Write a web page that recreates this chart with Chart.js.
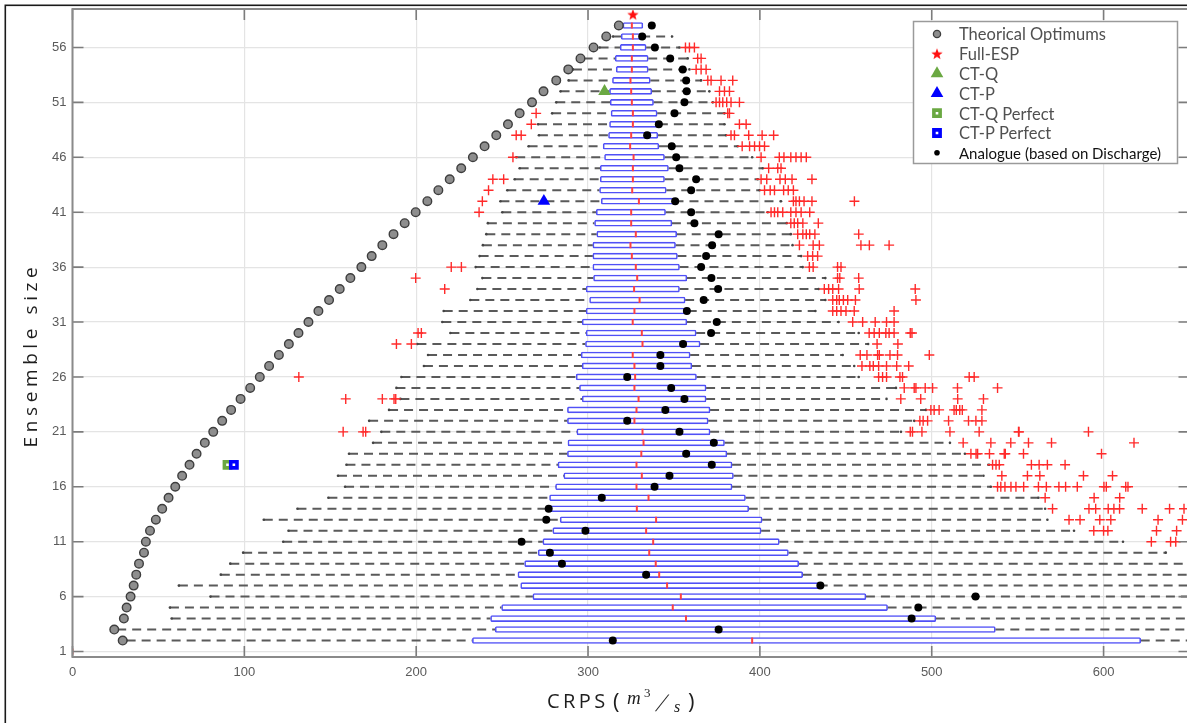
<!DOCTYPE html>
<html>
<head>
<meta charset="utf-8">
<title>CRPS vs ensemble size</title>
<script src="https://cdn.jsdelivr.net/npm/chart.js@4.4.1/dist/chart.umd.min.js"></script>
<style>
  html, body { margin: 0; padding: 0; background: #fff; overflow: hidden; }
  canvas { display: block; }
</style>
</head>
<body>
<canvas id="crps" width="1200" height="723"></canvas>
<script>
// ---- data: one entry per ensemble size ----
const ensembleSizes = [
  1, 2, 3, 4, 5, 6, 7, 8, 9, 10,
  11, 12, 13, 14, 15, 16, 17, 18, 19, 20,
  21, 22, 23, 24, 25, 26, 27, 28, 29, 30,
  31, 32, 33, 34, 35, 36, 37, 38, 39, 40,
  41, 42, 43, 44, 45, 46, 47, 48, 49, 50,
  51, 52, 53, 54, 55, 56, 57, 58
];
const whiskerLow = [
  0, 31.5, 26, 57.7, 56.7, 80.3, 61.9, 86.3, 91.8, 99.3,
  122.6, 125.7, 111.3, 130.9, 148.9, 158.6, 154.5, 159.4, 160.9, 174.9,
  179.7, 172.6, 184.2, 190.8, 188.5, 191.4, 204.5, 206.9, 200.7, 219.9,
  215.2, 216.0, 231.5, 235.6, 238.5, 234.6, 236.9, 238.8, 240.8, 241.7,
  250.1, 249.0, 253.0, 257.3, 260.2, 258.2, 265.4, 271.4, 270.9, 279.1,
  281.5, 284.0, 288.7, 291.2, 297.4, 306.7, 314.5, 320.3
];
const quartile1 = [
  0, 232.7, 246, 243.3, 249.7, 267.9, 260.8, 259.2, 263.1, 271,
  273.7, 279.5, 283.8, 277.6, 277.6, 281.1, 285.9, 282.5, 288.0, 288.3,
  293.5, 288.0, 288.0, 296.6, 295.0, 293.1, 296.6, 296.0, 298.5, 298.9,
  296.6, 298.9, 300.9, 298.9, 303.2, 302.8, 302.8, 302.8, 305.1, 303.8,
  304.8, 307.7, 306.7, 307.1, 307.1, 309.6, 308.8, 311.9, 312.5, 313.4,
  312.9, 312.5, 314.2, 316.4, 315.8, 318.7, 319.3, 320.3
];
const medianCRPS = [
  0, 395.5, 375, 357, 349.3, 354, 346, 341.4, 339.4, 335.6,
  337.9, 333.8, 339.6, 328.4, 335.2, 328.2, 331.3, 328.2, 331.0, 332.3,
  331.7, 327.0, 328.2, 329.4, 327.0, 327.4, 327.0, 326.0, 331.7, 331.3,
  326.0, 327.0, 330.0, 326.8, 328.6, 327.8, 325.5, 324.7, 327.8, 325.1,
  325.1, 329.6, 325.7, 326.1, 326.1, 326.5, 324.5, 325.1, 326.1, 326.1,
  325.5, 325.1, 324.7, 325.5, 325.5, 326.1, 326.1, 325.5
];
const quartile3 = [
  0, 621.6, 537, 502.4, 474.3, 461.7, 434.2, 424.9, 422.6, 416.6,
  411.3, 400.7, 401.3, 393.5, 391.6, 383.8, 384.6, 383.8, 380.8, 379.4,
  371.0, 369.9, 371.0, 368.7, 368.7, 363.1, 360.4, 359.4, 365.2, 362.9,
  357.5, 358.0, 356.5, 353.2, 357.5, 353.2, 352.0, 350.9, 351.6, 348.8,
  345.1, 350.3, 345.5, 344.5, 346.8, 344.5, 341.2, 340.6, 341.2, 340.2,
  338.1, 337.1, 336.2, 335.0, 335.0, 333.8, 330.9, 331.9
];
const whiskerHigh = [
  0, 760, 720, 700, 690, 680, 675, 668, 660, 636.2,
  611.3, 582.8, 567.3, 566, 562.1, 534.4, 530.1, 533.4, 519.3, 510.6,
  482.1, 489.8, 496.6, 473.7, 479.2, 457.5, 454.9, 448.2, 463.0, 457.5,
  445.8, 432.3, 438.1, 434.2, 438.1, 424.9, 424.0, 419.0, 418.0, 415.6,
  404.6, 412.3, 399.8, 398.8, 401.7, 395.5, 387.1, 380.3, 379.4, 379.4,
  372.6, 370.6, 365.8, 359.0, 358.0, 353.2, 348.9, 331.9
];
const analogueCRPS = [
  null, 314.4, 376, 488.3, 492.2, 525.5, 435.2, 333.8, 284.8, 277.8,
  261.3, 298.5, 275.7, 277.1, 308, 338.7, 347.4, 372, 357.1, 373.2,
  353.2, 322.8, 345.0, 356.1, 348.4, 322.8, 342.1, 342.1, 355.3, 371.6,
  374.9, 357.5, 367.3, 375.7, 371.8, 365.8, 368.7, 372.2, 376.0, 361.9,
  360.0, 350.7, 360.0, 362.9, 353.2, 351.3, 348.7, 334.4, 341.2, 350.3,
  356.1, 357.4, 357.1, 355.1, 347.8, 338.9, 331.5, 337.1
];
const theoreticalOptimum = [
  null, 29.2, 24.3, 29.9, 31.5, 33.8, 35.6, 37.1, 38.7, 41.6,
  42.7, 45.1, 48.5, 52.2, 55.9, 59.8, 63.8, 68.1, 72.2, 77.0,
  81.9, 87.1, 92.3, 97.8, 103.4, 109.0, 114.4, 120.1, 125.9, 131.5,
  137.3, 143.1, 149.3, 155.5, 161.7, 168.1, 174.1, 180.3, 186.8, 193.3,
  199.7, 206.5, 212.9, 219.5, 226.2, 233.0, 239.8, 246.6, 253.4, 260.2,
  267.4, 274.1, 281.5, 288.5, 295.6, 303.2, 310.6, 317.9
];
const outlierCRPS = [
  [],
  [], [], [], [], [], [], [], [], [],
  [627.8, 639, 642],
  [594.3, 600, 602.5, 630.8, 642.5],
  [579.9, 586.3, 597.8, 604.2, 631.7, 645.9],
  [570.3, 591.5, 595.4, 602.7, 606, 609.3, 622.5, 638.4, 646.8],
  [566, 594.5, 609.4],
  [538.3, 540.2, 542.6, 546.1, 549, 553.5, 562.1, 566.7, 574, 577.9, 584.7, 600.2, 601.6, 612.9, 614.2],
  [540.8, 555.7, 562.9, 588.3, 605.2],
  [535.4, 537.4, 539.3, 558, 562.5, 567.3, 577.6],
  [522.8, 525.8, 526.7, 533.6, 542.2, 542.8, 553.4, 598.8],
  [518.3, 534.4, 546, 556.3, 569.7, 617.7],
  [157.5, 169.1, 170.6, 487.5, 488.8, 494.3, 510.6, 527.6, 550.5, 550.8, 591.2],
  [493.1, 495, 497.6, 509.8, 521.4, 525.7, 529.2],
  [499.5, 501.4, 504.3, 513, 514.3, 516.3, 517.8, 529.2],
  [159, 180.3, 187.1, 188.1, 482, 493.6, 515.1, 530.1],
  [484, 489.8, 490.8, 496.2, 500.5, 515, 538.3],
  [131.7, 469.1, 471.4, 473.7, 481.5, 483, 521.8, 524.7],
  [459.4, 464, 466, 469.1, 473.7, 479.6, 486.6],
  [458.4, 462.3, 468.5, 469.5, 475.7, 480.1, 498.6],
  [188.5, 197.2, 468.2, 480.3],
  [201.1, 203, 463.6, 466.5, 469.5, 473.3, 475.2, 478.1, 487.5, 488.5],
  [454, 459.8, 467.1, 473.7, 478.1],
  [442.4, 444.7, 447.2, 450.1, 454.9, 478.1],
  [442.4, 444.7, 446.2, 448.6, 451.1, 455.6, 490.8],
  [216.6, 437.5, 440, 442.4, 445.8, 457.8, 490.4],
  [199.7, 445.2, 446.5, 457.5],
  [220.4, 226.3, 428.8, 431, 445.2, 447.2],
  [427.8, 430.7, 433.6],
  [423, 431, 434.6, 458.8, 463.7, 475.2],
  [422, 425, 427, 429, 432, 457.5],
  [418, 420, 422, 425, 434],
  [236.6, 406.5, 408.5, 410.4, 413.3, 418, 421, 424, 429],
  [238.5, 419.5, 421, 423, 425.7, 430.3, 455],
  [242.1, 402.7, 406, 408.5, 413.8, 416.5, 419.5],
  [244.6, 250.9, 400.7, 404, 411.7, 414.8, 418.7, 430.3],
  [405.1, 410.4, 412.3],
  [256.3, 400.7, 411.3, 414, 418, 421, 424, 427],
  [389.7, 394, 396.9, 399.8, 402.7],
  [258.2, 261.1, 383.2, 385.2, 393.5, 401.3, 408],
  [267, 388.1, 392],
  [269.8, 381.3, 382.3],
  [374.5, 376.5, 378.4, 380.7, 383.2, 388.1],
  [376.5, 379.4, 382.3],
  [369.7, 371.6, 377.4, 384.2],
  [362.9, 365.8, 368.7],
  [363.8, 365.8],
  [356.7, 359, 361.9],
  [],
  []
];

// single forecasts: [CRPS, ensemble size]
const fullEspPoint   = [326.1, 59];
const ctQPoint       = [309.6, 52];
const ctPPoint       = [274.3, 42];
const ctQPerfectPoint = [90.2, 18];
const ctPPerfectPoint = [93.9, 18];

// axes
const xTickValues = [0, 100, 200, 300, 400, 500, 600];
const yTickValues = [1, 6, 11, 16, 21, 26, 31, 36, 41, 46, 51, 56];
const xRange = [0, 650];
const yRange = [0.5, 59.5];
const yTitle = 'Ensemble size';
const xTitleWord = 'CRPS';
const legendLabels = [
  'Theorical Optimums', 'Full-ESP', 'CT-Q', 'CT-P',
  'CT-Q Perfect', 'CT-P Perfect', 'Analogue (based on Discharge)'
];

// ---- styles ----
const BOX_BLUE = '#5050f6';
const MED_RED = '#ff4040';
const OUT_RED = '#ff2a2a';
const WHISKER = '#5a5a5a';
const THEO_FILL = '#8e8e8e';
const THEO_EDGE = '#3e3e3e';
const CT_GREEN = '#6aa842';
const CT_BLUE = '#0000ff';

// filled five-point star used as a marker
function starMarker(r, color) {
  const c = document.createElement('canvas');
  const s = Math.ceil(r * 2 + 2);
  c.width = c.height = s;
  const g = c.getContext('2d');
  g.translate(s / 2, s / 2 + 0.5);
  g.beginPath();
  for (let i = 0; i < 10; i++) {
    const rad = i % 2 ? r * 0.42 : r;
    const a = -Math.PI / 2 + i * Math.PI / 5;
    g.lineTo(Math.cos(a) * rad, Math.sin(a) * rad);
  }
  g.closePath();
  g.fillStyle = color;
  g.fill();
  return c;
}
const starImg = starMarker(6, '#ff1010');

// ---- datasets built from the arrays ----
const boxData = [], medianData = [], whiskerData = [], capData = [];
const outlierData = [], analogueData = [], theoData = [];
ensembleSizes.forEach((k, i) => {
  if (quartile3[i] > quartile1[i]) boxData.push({ y: k, x: [quartile1[i], quartile3[i]] });
  medianData.push({ x: medianCRPS[i], y: k });
  if (whiskerLow[i] < quartile1[i]) {
    whiskerData.push({ x: whiskerLow[i], y: k }, { x: quartile1[i], y: k }, { x: quartile1[i], y: null });
    capData.push({ x: whiskerLow[i], y: k });
  }
  if (whiskerHigh[i] > quartile3[i]) {
    whiskerData.push({ x: quartile3[i], y: k }, { x: whiskerHigh[i], y: k }, { x: whiskerHigh[i], y: null });
    capData.push({ x: whiskerHigh[i], y: k });
  }
  outlierCRPS[i].forEach(v => outlierData.push({ x: v, y: k }));
  if (analogueCRPS[i] != null) analogueData.push({ x: analogueCRPS[i], y: k });
  if (theoreticalOptimum[i] != null) theoData.push({ x: theoreticalOptimum[i], y: k });
});
const pt = p => [{ x: p[0], y: p[1] }];

// ---- plugins ----
const background = {
  id: 'background',
  beforeDraw(chart) {
    const { ctx, width, height } = chart;
    ctx.save();
    ctx.fillStyle = '#fff';
    ctx.fillRect(0, 0, width, height);
    ctx.restore();
  }
};

const axesBox = {
  id: 'axesBox',
  afterDatasetsDraw(chart) {
    const { ctx, chartArea: a, scales: { x, y } } = chart;
    ctx.save();
    ctx.strokeStyle = '#7c7c7c';
    ctx.lineWidth = 1.6;
    ctx.beginPath();
    xTickValues.forEach(v => {
      const px = x.getPixelForValue(v);
      ctx.moveTo(px, a.bottom); ctx.lineTo(px, a.bottom - 11);
      ctx.moveTo(px, a.top); ctx.lineTo(px, a.top + 11);
    });
    yTickValues.forEach(v => {
      const py = y.getPixelForValue(v);
      ctx.moveTo(a.left, py); ctx.lineTo(a.left + 11, py);
      ctx.moveTo(a.right, py); ctx.lineTo(a.right - 11, py);
    });
    ctx.stroke();
    ctx.strokeStyle = '#8a8a8a';
    ctx.lineWidth = 2;
    ctx.strokeRect(a.left, a.top, a.right - a.left, a.bottom - a.top);
    ctx.restore();
  }
};

const markerLegend = {
  id: 'markerLegend',
  afterDraw(chart) {
    const { ctx, chartArea: a } = chart;
    const bx = a.right - 276, by = a.top + 12.5, bw = 264, bh = 142;
    ctx.save();
    ctx.fillStyle = '#fff';
    ctx.fillRect(bx, by, bw, bh);
    ctx.strokeStyle = '#9a9a9a';
    ctx.lineWidth = 1.5;
    ctx.strokeRect(bx, by, bw, bh);

    const marks = [
      { pointStyle: 'circle', radius: 3.6, borderWidth: 1.3, fill: THEO_FILL, stroke: THEO_EDGE },
      { pointStyle: starImg, radius: 6, borderWidth: 0 },
      { pointStyle: 'triangle', radius: 7.3, borderWidth: 0, fill: CT_GREEN, stroke: CT_GREEN },
      { pointStyle: 'triangle', radius: 7.3, borderWidth: 0, fill: CT_BLUE, stroke: CT_BLUE },
      { pointStyle: 'rect', radius: 4.4, borderWidth: 3.6, fill: '#fff', stroke: CT_GREEN },
      { pointStyle: 'rect', radius: 4.4, borderWidth: 3.6, fill: '#fff', stroke: CT_BLUE },
      { pointStyle: 'circle', radius: 2.8, borderWidth: 0, fill: '#000', stroke: '#000' }
    ];
    const mx = bx + 23.5, tx = bx + 45.5;
    legendLabels.forEach((label, i) => {
      const cy = by + 12.5 + i * 19.8;
      const m = marks[i];
      ctx.fillStyle = m.fill || '#000';
      ctx.strokeStyle = m.stroke || '#000';
      ctx.lineWidth = m.borderWidth;
      Chart.helpers.drawPoint(ctx, { pointStyle: m.pointStyle, rotation: 0, radius: m.radius, borderWidth: m.borderWidth }, mx, cy);
      ctx.textBaseline = 'middle';
      ctx.textAlign = 'left';
      if (i === legendLabels.length - 1) {
        ctx.font = '15px Lato';
        ctx.fillStyle = '#111';
      } else {
        ctx.font = '16.5px Lato';
        ctx.fillStyle = '#505050';
      }
      ctx.fillText(label, tx, cy + 1);
    });
    ctx.restore();
  }
};

const axisTitles = {
  id: 'axisTitles',
  afterDraw(chart) {
    const { ctx, chartArea: a } = chart;
    ctx.save();
    ctx.fillStyle = '#1e1e1e';
    ctx.textBaseline = 'alphabetic';

    // vertical title
    ctx.save();
    ctx.translate(37, (a.top + a.bottom) / 2 + 22);
    ctx.rotate(-Math.PI / 2);
    ctx.font = '19px "Open Sans"';
    ctx.letterSpacing = '4.6px';
    ctx.textAlign = 'center';
    ctx.fillText(yTitle, 0, 0);
    ctx.restore();

    // horizontal title: CRPS (m^3/s)
    const x0 = a.left + 474.5, base = a.bottom + 51;
    ctx.textAlign = 'left';
    ctx.font = '20px "Open Sans"';
    ctx.letterSpacing = '3.4px';
    ctx.fillText(xTitleWord, x0, base);
    ctx.letterSpacing = '0px';
    ctx.font = '22px "Open Sans"';
    ctx.fillText('(', x0 + 66, base + 1);
    ctx.font = 'italic 19px "Liberation Serif"';
    ctx.fillText('m', x0 + 80, base - 4);
    ctx.font = '13px "Liberation Serif"';
    ctx.fillText('3', x0 + 97, base - 11);
    // slanted fraction slash
    ctx.save();
    ctx.translate(x0 + 108, base + 3);
    ctx.transform(1, 0, -0.45, 1, 0, 0);
    ctx.font = '25px "Liberation Serif"';
    ctx.fillText('/', 0, 0);
    ctx.restore();
    ctx.font = 'italic 16px "Liberation Serif"';
    ctx.fillText('s', x0 + 127, base + 4);
    ctx.font = '22px "Open Sans"';
    ctx.fillText(')', x0 + 141, base + 1);
    ctx.restore();
  }
};

const figureFrame = {
  id: 'figureFrame',
  afterDraw(chart) {
    const { ctx } = chart;
    ctx.save();
    ctx.strokeStyle = '#1a1a1a';
    ctx.lineWidth = 1.6;
    ctx.strokeRect(5.3, 5.3, 1400, 900);
    ctx.restore();
  }
};

// ---- chart ----
const tickFont = { family: '"Liberation Sans", Arial, sans-serif', size: 13 };
const noScalePadding = s => { s.paddingTop = 0; s.paddingBottom = 0; s.paddingLeft = 0; s.paddingRight = 0; };
new Chart(document.getElementById('crps'), {
  type: 'scatter',
  data: {
    datasets: [
      {
        type: 'line', label: 'whiskers', data: whiskerData, order: 10,
        borderColor: WHISKER, borderWidth: 2, borderDash: [9, 6],
        pointRadius: 0, spanGaps: false, fill: false, tension: 0
      },
      {
        label: 'whisker ends', data: capData, order: 9,
        pointStyle: 'circle', pointRadius: 1.3, pointBorderWidth: 0,
        pointBackgroundColor: '#444'
      },
      {
        type: 'bar', label: 'boxes', data: boxData, order: 8, indexAxis: 'y',
        barThickness: 6, borderColor: BOX_BLUE, backgroundColor: '#fff',
        borderWidth: 1.6, borderSkipped: false, borderRadius: 1.5
      },
      {
        label: 'medians', data: medianData, order: 7,
        pointStyle: 'line', rotation: 90, pointRadius: 3,
        pointBorderColor: MED_RED, pointBorderWidth: 2
      },
      {
        label: 'outliers', data: outlierData, order: 6,
        pointStyle: 'cross', pointRadius: 5,
        pointBorderColor: OUT_RED, pointBorderWidth: 1.4
      },
      {
        label: legendLabels[0], data: theoData, order: 5,
        pointStyle: 'circle', pointRadius: 4.3,
        pointBackgroundColor: THEO_FILL, pointBorderColor: THEO_EDGE, pointBorderWidth: 1.4
      },
      {
        label: legendLabels[6], data: analogueData, order: 4,
        pointStyle: 'circle', pointRadius: 4, pointBorderWidth: 0,
        pointBackgroundColor: '#000'
      },
      {
        label: legendLabels[4], data: pt(ctQPerfectPoint), order: 3,
        pointStyle: 'rect', pointRadius: 4.4, pointBorderWidth: 3.6,
        pointBorderColor: CT_GREEN, pointBackgroundColor: '#fff'
      },
      {
        label: legendLabels[5], data: pt(ctPPerfectPoint), order: 2.5,
        pointStyle: 'rect', pointRadius: 4.4, pointBorderWidth: 3.6,
        pointBorderColor: CT_BLUE, pointBackgroundColor: '#fff'
      },
      {
        label: legendLabels[2], data: pt(ctQPoint), order: 2,
        pointStyle: 'triangle', pointRadius: 7.3, pointBorderWidth: 0,
        pointBackgroundColor: CT_GREEN
      },
      {
        label: legendLabels[3], data: pt(ctPPoint), order: 1.5,
        pointStyle: 'triangle', pointRadius: 7.3, pointBorderWidth: 0,
        pointBackgroundColor: CT_BLUE
      },
      {
        label: legendLabels[1], data: pt(fullEspPoint), order: 1, clip: false,
        pointStyle: starImg, pointRadius: 6
      }
    ]
  },
  options: {
    responsive: false,
    animation: false,
    events: [],
    layout: { padding: { left: 0, right: 10.5, top: 9, bottom: 0 } },
    plugins: { legend: { display: false }, tooltip: { enabled: false } },
    scales: {
      x: {
        type: 'linear', min: xRange[0], max: xRange[1], offset: false,
        afterBuildTicks: s => { s.ticks = xTickValues.map(v => ({ value: v })); },
        afterFit: s => { s.height = 66; noScalePadding(s); },
        grid: { color: '#e4e4e4', lineWidth: 1.2, drawTicks: false, offset: false },
        border: { display: false },
        ticks: { padding: 8, color: '#5a5a5a', font: tickFont }
      },
      y: {
        type: 'linear', min: yRange[0], max: yRange[1], offset: false,
        afterBuildTicks: s => { s.ticks = yTickValues.map(v => ({ value: v })); },
        afterFit: s => { s.width = 72.5; noScalePadding(s); },
        grid: { color: '#e4e4e4', lineWidth: 1.2, drawTicks: false, offset: false },
        border: { display: false },
        ticks: { padding: 6, color: '#5a5a5a', font: tickFont }
      }
    }
  },
  plugins: [background, axesBox, markerLegend, axisTitles, figureFrame]
});
</script>
</body>
</html>
